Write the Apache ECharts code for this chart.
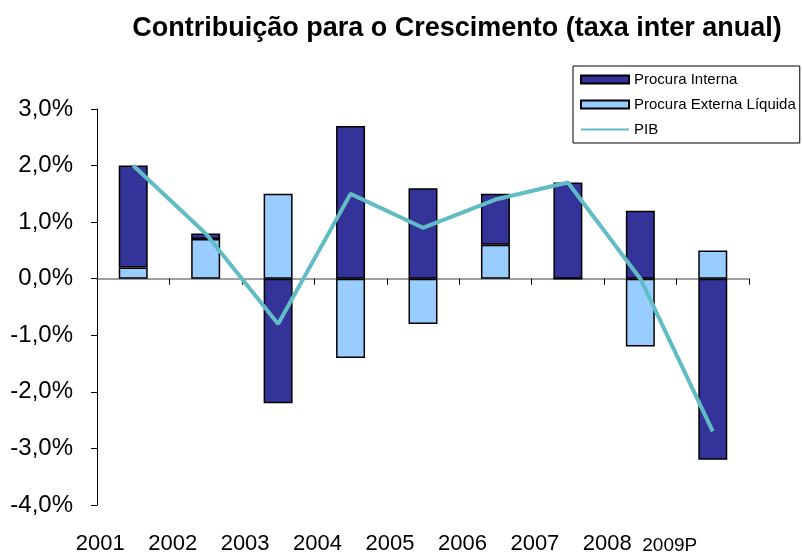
<!DOCTYPE html>
<html>
<head>
<meta charset="utf-8">
<script src="https://cdn.jsdelivr.net/npm/echarts@6/dist/echarts.min.js"></script>
<style>
  html, body { margin: 0; padding: 0; background: #fff; }
  #main { width: 802px; height: 553px; }
</style>
</head>
<body>
<div id="main"></div>
<script>
// dados (contribuições em p.p.)
var anos = ['2001', '2002', '2003', '2004', '2005', '2006', '2007', '2008', '2009P'];
var procuraInterna = [1.8, 0.1, -2.2, 2.7, 1.6, 0.9, 1.7, 1.2, -3.2];
var procuraExterna = [0.2, 0.7, 1.5, -1.4, -0.8, 0.6, 0, -1.2, 0.5];
var pib = [2.0, 0.8, -0.8, 1.5, 0.9, 1.4, 1.7, 0.0, -2.7];

var fonte = 'Arial, "Liberation Sans", sans-serif';

var chart = echarts.init(document.getElementById('main'));

var option = {
  animation: false,
  title: {
    text: 'Contribuição para o Crescimento (taxa inter anual)',
    left: 452,
    textAlign: 'center',
    top: 10,
    textStyle: { fontFamily: fonte, fontSize: 27, fontWeight: 'bold', color: '#000' }
  },
  legend: {
    orient: 'vertical',
    left: 573,
    top: 66,
    padding: [6, 4, 6, 7],
    borderColor: '#000',
    borderWidth: 1,
    itemWidth: 48,
    itemHeight: 8,
    itemGap: 10,
    textStyle: { fontFamily: fonte, fontSize: 15, color: '#000' },
    data: [
      { name: 'Procura Interna', icon: 'rect' },
      { name: 'Procura Externa Líquida', icon: 'rect' },
      { name: 'PIB', itemStyle: { opacity: 0 } }
    ]
  },
  grid: { left: 97, right: 53, top: 109, bottom: 48, outerBoundsMode: 'none', containLabel: false },
  xAxis: [
    {
      type: 'category',
      data: anos,
      position: 'bottom',
      axisLine: { onZero: true, lineStyle: { color: '#808080', width: 1.5 } },
      axisTick: { show: true, length: 6, lineStyle: { color: '#000' } },
      axisLabel: { show: false }
    },
    {
      type: 'category',
      data: anos,
      position: 'bottom',
      axisLine: { show: false, onZero: false },
      axisTick: { show: false },
      axisLabel: {
        margin: 28,
        formatter: function (v) {
          return v === '2009P' ? '{s|' + v + '}' : '{a|' + v + '}';
        },
        rich: {
          a: { fontFamily: fonte, fontSize: 22, color: '#000', padding: [0, 66, 0, 0] },
          s: { fontFamily: fonte, fontSize: 19, color: '#000', padding: [3, 86, 0, 0] }
        }
      }
    }
  ],
  yAxis: {
    type: 'value',
    min: -4,
    max: 3,
    interval: 1,
    axisLine: { show: true, lineStyle: { color: '#000', width: 1 } },
    axisTick: { show: true, length: 6, lineStyle: { color: '#000' } },
    splitLine: { show: false },
    axisLabel: {
      margin: 24,
      fontFamily: fonte,
      fontSize: 24,
      color: '#000',
      formatter: function (v) { return v.toFixed(1).replace('.', ',') + '%'; }
    }
  },
  series: [
    {
      name: 'Procura Externa Líquida',
      type: 'bar',
      stack: 'contrib',
      barWidth: '40%',
      itemStyle: { color: '#99CCFF', borderColor: '#000', borderWidth: 1.5 },
      data: procuraExterna
    },
    {
      name: 'Procura Interna',
      type: 'bar',
      stack: 'contrib',
      itemStyle: { color: '#333399', borderColor: '#000', borderWidth: 1.5 },
      data: procuraInterna
    },
    {
      name: 'PIB',
      type: 'line',
      showSymbol: false,
      symbol: 'none',
      z: 5,
      lineStyle: { color: '#62BCC6', width: 4 },
      itemStyle: { color: '#62BCC6' },
      data: pib
    }
  ]
};

chart.setOption(option);

window.addEventListener('resize', function () {
  chart.resize();
});
</script>
</body>
</html>
